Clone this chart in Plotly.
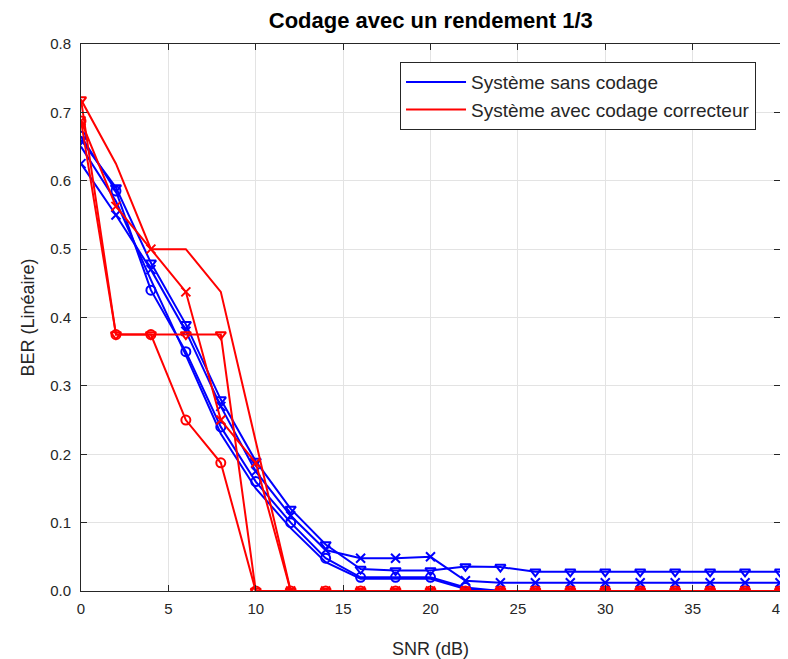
import plotly.graph_objects as go

# ===== données =====
snr = list(range(0, 42, 2))

# système sans codage (bleu)
ber_sans = [0.650, 0.570, 0.455, 0.345, 0.230, 0.150, 0.092, 0.042, 0.018, 0.018, 0.018, 0.003, 0.0, 0.0, 0.0, 0.0, 0.0, 0.0, 0.0, 0.0, 0.0]
ber_sans_o = [0.665, 0.585, 0.440, 0.350, 0.240, 0.160, 0.100, 0.048, 0.020, 0.020, 0.020, 0.005, 0.0, 0.0, 0.0, 0.0, 0.0, 0.0, 0.0, 0.0, 0.0]
ber_sans_x = [0.625, 0.550, 0.470, 0.380, 0.270, 0.175, 0.110, 0.060, 0.048, 0.048, 0.050, 0.015, 0.012, 0.012, 0.012, 0.012, 0.012, 0.012, 0.012, 0.012, 0.012]
ber_sans_v = [0.660, 0.590, 0.480, 0.390, 0.280, 0.190, 0.120, 0.068, 0.032, 0.030, 0.030, 0.036, 0.035, 0.028, 0.028, 0.028, 0.028, 0.028, 0.028, 0.028, 0.028]

# système avec codage correcteur (rouge)
ber_code = [0.71875, 0.625, 0.5, 0.5, 0.4375, 0.21875, 0, 0, 0, 0, 0, 0, 0, 0, 0, 0, 0, 0, 0, 0, 0]
ber_code_o = [0.6875, 0.375, 0.375, 0.25, 0.1875, 0, 0, 0, 0, 0, 0, 0, 0, 0, 0, 0, 0, 0, 0, 0, 0]
ber_code_x = [0.6875, 0.5625, 0.5, 0.4375, 0.25, 0.1875, 0, 0, 0, 0, 0, 0, 0, 0, 0, 0, 0, 0, 0, 0, 0]
ber_code_v = [0.71875, 0.375, 0.375, 0.375, 0.375, 0, 0, 0, 0, 0, 0, 0, 0, 0, 0, 0, 0, 0, 0, 0, 0]

BLUE = "#0000ff"
RED = "#ff0000"
FONT = "Liberation Sans"
GREY = "#262626"

fig = go.Figure()

series = [
    (ber_sans, BLUE, None, "Système sans codage", True),
    (ber_sans_o, BLUE, "circle-open", None, False),
    (ber_sans_x, BLUE, "x-thin-open", None, False),
    (ber_sans_v, BLUE, "triangle-down-open", None, False),
    (ber_code, RED, None, "Système avec codage correcteur", True),
    (ber_code_o, RED, "circle-open", None, False),
    (ber_code_x, RED, "x-thin-open", None, False),
    (ber_code_v, RED, "triangle-down-open", None, False),
]

for y, col, sym, name, leg in series:
    if sym is None:
        fig.add_trace(go.Scatter(x=snr, y=y, mode="lines", name=name, showlegend=leg,
                                 line=dict(color=col, width=2)))
    else:
        fig.add_trace(go.Scatter(x=snr, y=y, mode="lines+markers", showlegend=False,
                                 line=dict(color=col, width=2),
                                 marker=dict(symbol=sym, size=9, color=col,
                                             line=dict(color=col, width=2))))

axis_common = dict(
    showline=True, mirror="ticks", linecolor=GREY, linewidth=1,
    ticks="inside", ticklen=6, tickcolor=GREY,
    showgrid=True, gridcolor="#e3e3e3", gridwidth=1,
    zeroline=False, automargin=False, ticklabeloverflow="allow",
    tickfont=dict(family=FONT, size=15, color=GREY),
)

fig.update_xaxes(range=[0, 40], dtick=5, ticklabelstandoff=4, **axis_common,
                 title=dict(text="SNR (dB)", font=dict(family=FONT, size=18, color=GREY), standoff=30))
fig.update_yaxes(range=[0, 0.8], dtick=0.1, tickformat=".1f", ticklabelstandoff=6, **axis_common,
                 title=dict(text="BER (Linéaire)", font=dict(family=FONT, size=18, color=GREY), standoff=10))

# la page ajoute 8 px de marge au body : on compense
fig.update_layout(
    width=780, height=651,
    margin=dict(l=73, r=8, t=36, b=68),
    paper_bgcolor="white", plot_bgcolor="white",
    title=dict(text="<b>Codage avec un rendement 1/3</b>", x=0.542, xanchor="center",
               xref="container", yref="container", y=0.9816, yanchor="middle",
               font=dict(family=FONT, size=22, color="black")),
    legend=dict(x=0.9657, y=0.967, xanchor="right", yanchor="top",
                bordercolor=GREY, borderwidth=1, bgcolor="white",
                font=dict(family=FONT, size=19, color=GREY),
                itemwidth=60, tracegroupgap=0),
    showlegend=True,
)

fig.write_html("out.html")
